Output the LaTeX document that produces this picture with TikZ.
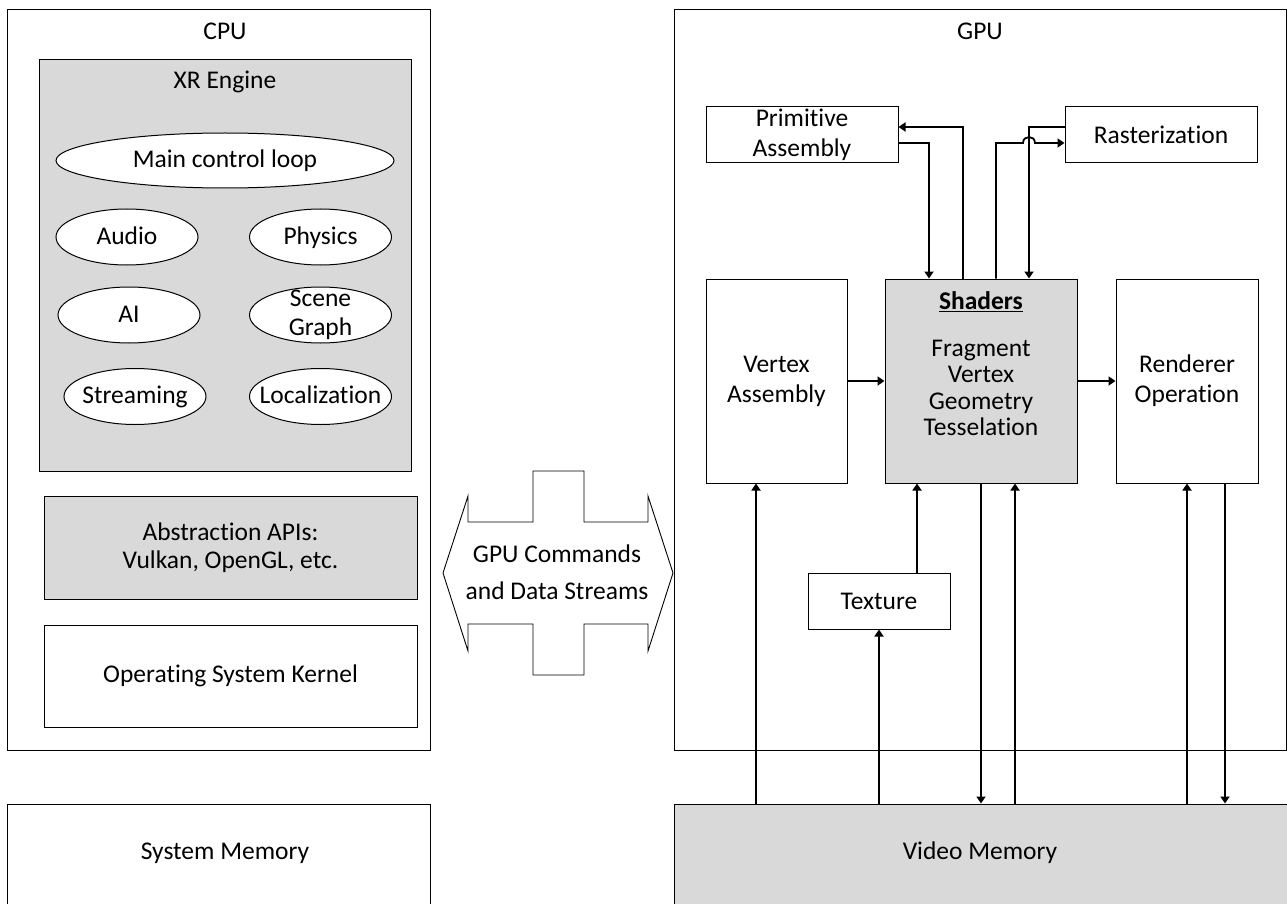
\documentclass[tikz,border=0pt]{standalone}
\usepackage{fontspec}
\setmainfont{Carlito}[Ligatures={TeX,NoCommon,NoContextual,NoRare}, Contextuals={NoAlternate}]
\usetikzlibrary{arrows.meta,shapes.geometric}
\definecolor{fillgray}{HTML}{D9D9D9}
\begin{document}
\begin{tikzpicture}[x=1pt,y=-1pt,
  font=\fontsize{25.5}{30}\selectfont,
  box/.style={draw, line width=1pt, inner sep=0pt, align=center},
  graybox/.style={box, fill=fillgray},
  oval/.style={draw, ellipse, line width=1pt, fill=white, minimum width=142pt, minimum height=56pt, inner sep=0pt},
  ovtxt/.style={text height=18pt, text depth=4pt, inner sep=0pt},
  arr/.style={line width=1.8pt, -{Triangle[width=9pt,length=7pt]}},
  txt/.style={inner sep=0pt, align=center}]
\useasboundingbox (0,0) rectangle (1287,904);
\fill[white] (0,0) rectangle (1287,904);

% CPU side
\node[box, minimum width=423pt, minimum height=740pt] (cpu) at (218.5,380) {};
\node[txt] (cputxt) at (225,31) {CPU};
\node[graybox, minimum width=372pt, minimum height=411pt] (xr) at (225,265.5) {};
\node[txt] (xrtxt) at (225,82) {XR Engine};
\node[oval, minimum width=338pt, minimum height=55pt, label={[ovtxt]center:Main control loop}] (loop) at (225,160.5) {};
\node[oval, label={[ovtxt]center:Audio}] (audio) at (127,237) {};
\node[oval, label={[ovtxt]center:Physics}] (phys) at (320.5,237) {};
\node[oval, label={[ovtxt]center:AI}] (ai) at (129,315) {};
\node[oval, label={[align=center, font=\fontsize{25.5}{29}\selectfont]center:Scene\\Graph}] (scene) at (320.5,315) {};
\node[oval, label={[ovtxt]center:Streaming}] (stream) at (135,396.5) {};
\node[oval, label={[ovtxt]center:Localization}] (loc) at (320.5,396.5) {};
\node[graybox, minimum width=373pt, minimum height=103pt, font=\fontsize{25.5}{28}\selectfont] (abs) at (230.5,547.5) {Abstraction APIs:\\Vulkan, OpenGL, etc.};
\node[box, minimum width=373pt, minimum height=102pt] (os) at (230.5,676) {Operating System Kernel};
\node[box, minimum width=423pt, minimum height=200pt] (sysmem) at (218.5,904) {};
\node[txt] (sysmemtxt) at (225,853) {System Memory};

% Bus arrow
\draw[line width=0.9pt] (443,573) -- (468,496) -- (468,522) -- (533,522) -- (533,471) -- (584,471) -- (584,522) -- (648,522) -- (648,496) -- (673,573) -- (648,651) -- (648,624) -- (584,624) -- (584,675) -- (533,675) -- (533,624) -- (468,624) -- (468,651) -- cycle;
\node[txt, font=\fontsize{25.5}{37}\selectfont] (bus) at (557,572) {GPU Commands\\and Data Streams};

% GPU side
\node[box, minimum width=612pt, minimum height=740pt] (gpu) at (980,380) {};
\node[txt] (gputxt) at (980,31) {GPU};
\node[box, minimum width=192pt, minimum height=56pt] (prim) at (802,135) {Primitive\\Assembly};
\node[box, minimum width=192pt, minimum height=56pt] (rast) at (1161,135) {Rasterization};
\node[box, minimum width=141pt, minimum height=204pt] (va) at (776.5,381) {Vertex\\Assembly};
\node[graybox, minimum width=192pt, minimum height=204pt] (shaders) at (981,381) {};
\node[txt, font=\fontsize{25.5}{26.5}\selectfont] (shtxt) at (981,364) {\underline{\textbf{Shaders}}\\[20pt]Fragment\\Vertex\\Geometry\\Tesselation};
\node[box, minimum width=142pt, minimum height=204pt] (rend) at (1187,381) {Renderer\\Operation};
\node[box, minimum width=142pt, minimum height=56pt] (tex) at (879,601) {Texture};
\node[graybox, minimum width=613pt, minimum height=200pt] (vm) at (980.5,904) {};
\node[txt] (vmtxt) at (980,853) {Video Memory};

% connectors
\coordinate (xva) at (756,0);
\coordinate (xts) at (917,0);
\coordinate (xsu) at (1015,0);
\coordinate (xrd) at (1225,0);
\coordinate (h1) at (1023,143);
\coordinate (h2) at (1035,143);

\draw[arr] ([xshift=-18pt]shaders.north) |- ([yshift=8pt]prim.east);
\draw[arr] ([yshift=-8pt]prim.east) -| ([xshift=-52pt]shaders.north);
\draw[arr] ([yshift=8pt]rast.west) -| ([xshift=48pt]shaders.north);
\draw[arr] ([xshift=15pt]shaders.north) |- (h1) .. controls +(0,-8) and +(0,-8) .. (h2) -- ([yshift=-8pt]rast.west);

\draw[arr] (va.east) -- (shaders.west);
\draw[arr] (shaders.east) -- (rend.west);

\draw[arr] (vm.north -| xva) -- (va.south -| xva);
\draw[arr] (vm.north -| tex) -- (tex.south);
\draw[arr] (tex.north -| xts) -- (shaders.south -| xts);
\draw[arr] (shaders.south) -- (vm.north -| shaders);
\draw[arr] (vm.north -| xsu) -- (shaders.south -| xsu);
\draw[arr] (vm.north -| rend) -- (rend.south);
\draw[arr] (rend.south -| xrd) -- (vm.north -| xrd);
\end{tikzpicture}
\end{document}
